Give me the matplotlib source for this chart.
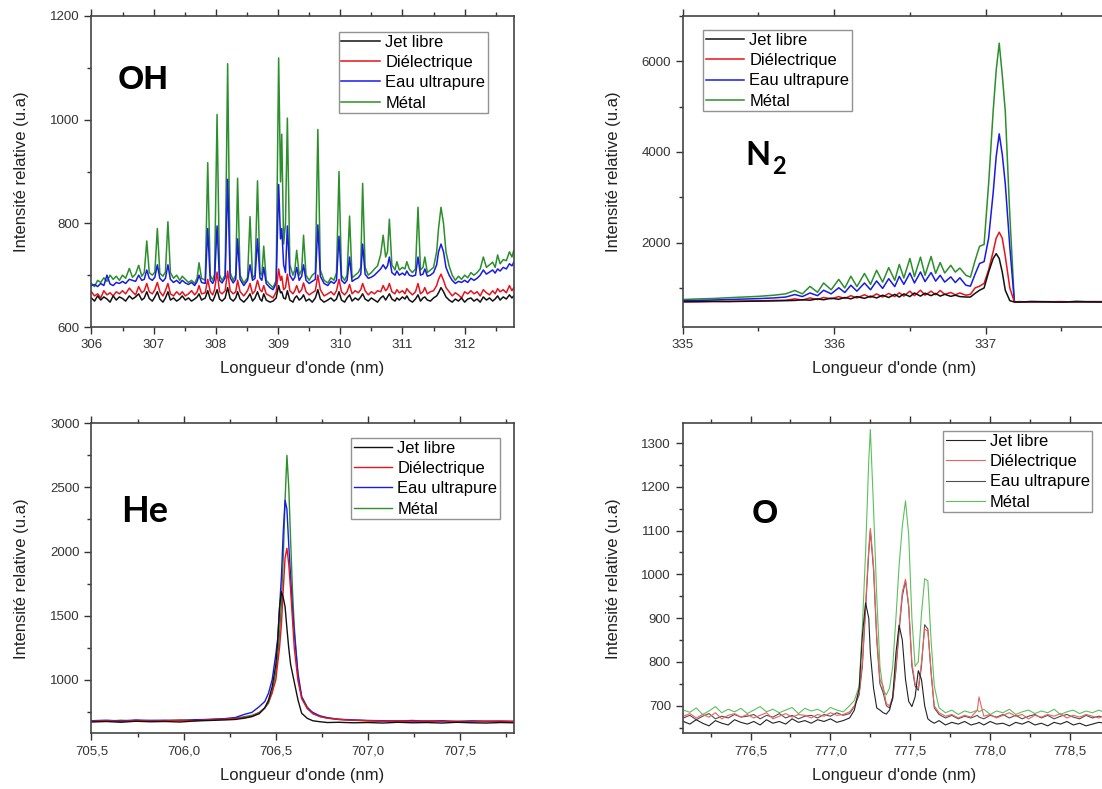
import numpy as np
import matplotlib
matplotlib.use('Agg')
import matplotlib.pyplot as plt
from matplotlib.ticker import MultipleLocator, FuncFormatter

plt.rcParams['font.family'] = ['Liberation Sans', 'DejaVu Sans']

W, H = 1102, 789
labels = ['Jet libre', 'Diélectrique', 'Eau ultrapure', 'Métal']

# ---- OH band (306-312.8 nm)
oh_x = [306.00, 306.05, 306.10, 306.15, 306.20, 306.25, 306.30, 306.35, 306.40, 306.45,
        306.50, 306.55, 306.61, 306.66, 306.71, 306.76, 306.81, 306.85, 306.89, 306.93,
        306.98, 307.02, 307.06, 307.10, 307.15, 307.19, 307.23, 307.27, 307.32, 307.37,
        307.42, 307.46, 307.51, 307.56, 307.61, 307.66, 307.70, 307.73, 307.77, 307.83,
        307.87, 307.91, 307.95, 307.98, 308.02, 308.06, 308.10, 308.15, 308.19, 308.23,
        308.28, 308.32, 308.35, 308.39, 308.45, 308.51, 308.55, 308.59, 308.63, 308.67,
        308.71, 308.74, 308.77, 308.81, 308.87, 308.92, 308.97, 309.01, 309.04, 309.06,
        309.09, 309.12, 309.15, 309.19, 309.24, 309.27, 309.30, 309.34, 309.38, 309.41,
        309.45, 309.50, 309.55, 309.60, 309.64, 309.68, 309.74, 309.80, 309.85, 309.90,
        309.94, 309.98, 310.02, 310.07, 310.11, 310.15, 310.19, 310.24, 310.29, 310.33,
        310.36, 310.40, 310.45, 310.50, 310.55, 310.60, 310.65, 310.69, 310.73, 310.76,
        310.79, 310.83, 310.88, 310.91, 310.95, 311.00, 311.04, 311.07, 311.11, 311.16,
        311.21, 311.25, 311.29, 311.33, 311.36, 311.40, 311.45, 311.50, 311.55, 311.58,
        311.62, 311.66, 311.70, 311.75, 311.80, 311.85, 311.90, 311.95, 312.00, 312.05,
        312.10, 312.15, 312.20, 312.25, 312.30, 312.35, 312.40, 312.45, 312.49, 312.53,
        312.57, 312.62, 312.67, 312.72, 312.76, 312.79]
oh_metal = [684, 678, 690, 686, 695, 688, 700, 692, 698, 690,
            700, 694, 713, 696, 702, 719, 698, 705, 766, 705,
            700, 706, 790, 704, 698, 706, 803, 705, 694, 700,
            690, 698, 692, 686, 690, 684, 695, 724, 694, 690,
            917, 700, 690, 702, 1010, 700, 690, 700, 1108, 705,
            690, 700, 887, 700, 685, 695, 813, 695, 700, 882,
            705, 700, 756, 690, 682, 676, 690, 1119, 880, 972,
            760, 800, 1003, 720, 700, 710, 748, 700, 710, 777,
            700, 690, 700, 705, 981, 710, 690, 685, 695, 690,
            705, 900, 700, 690, 700, 814, 695, 700, 705, 715,
            877, 715, 700, 705, 712, 718, 740, 777, 735, 745,
            808, 720, 710, 726, 710, 715, 712, 726, 712, 705,
            712, 831, 710, 715, 735, 705, 710, 715, 745, 790,
            831, 800, 745, 718, 700, 690, 698, 692, 700, 695,
            705, 700, 705, 712, 735, 715, 720, 725, 715, 739,
            722, 730, 728, 745, 735, 748]
oh_eau = [680, 682, 678, 684, 680, 700, 683, 680, 686, 684,
          688, 684, 692, 690, 688, 700, 690, 692, 710, 694,
          690, 696, 720, 694, 688, 694, 720, 692, 686, 690,
          684, 690, 685, 682, 686, 680, 688, 700, 686, 684,
          790, 690, 684, 692, 795, 690, 685, 695, 885, 695,
          685, 692, 770, 692, 680, 690, 720, 690, 694, 770,
          695, 690, 715, 684, 676, 672, 684, 875, 770, 790,
          720, 705, 795, 700, 690, 696, 715, 690, 698, 720,
          690, 684, 688, 692, 797, 698, 684, 680, 688, 684,
          690, 775, 690, 684, 690, 735, 688, 692, 695, 702,
          760, 702, 694, 696, 700, 706, 712, 720, 712, 718,
          735, 705, 700, 708, 700, 704, 700, 708, 700, 698,
          700, 735, 700, 702, 712, 698, 700, 705, 720, 745,
          760, 745, 715, 700, 690, 684, 688, 686, 690, 686,
          694, 690, 694, 700, 710, 702, 706, 710, 704, 712,
          708, 715, 712, 722, 718, 725]
oh_diel = [668, 660, 664, 656, 670, 662, 666, 660, 668, 664,
           670, 664, 675, 668, 662, 678, 666, 670, 684, 668,
           664, 672, 686, 668, 660, 670, 684, 664, 660, 668,
           662, 668, 660, 664, 670, 662, 668, 680, 664, 666,
           692, 668, 662, 672, 706, 668, 664, 670, 708, 670,
           664, 668, 690, 668, 660, 670, 684, 664, 670, 690,
           672, 668, 680, 664, 660, 656, 668, 712, 690, 698,
           672, 676, 702, 670, 664, 670, 680, 666, 672, 685,
           668, 662, 666, 670, 700, 672, 660, 664, 668, 662,
           670, 692, 668, 662, 668, 682, 664, 670, 666, 672,
           684, 670, 662, 668, 664, 670, 668, 680, 670, 674,
           684, 668, 664, 672, 666, 670, 664, 674, 668, 662,
           668, 684, 664, 668, 676, 664, 668, 670, 680, 692,
           702, 690, 676, 668, 660, 666, 662, 656, 668, 664,
           670, 664, 668, 660, 672, 666, 662, 670, 664, 674,
           668, 672, 666, 680, 670, 676]
oh_jet = [656, 650, 660, 652, 658, 654, 648, 660, 652, 658,
          655, 650, 660, 654, 658, 664, 652, 656, 668, 655,
          650, 658, 668, 654, 648, 656, 668, 652, 656, 650,
          654, 660, 652, 656, 650, 654, 658, 664, 652, 656,
          670, 654, 650, 658, 672, 654, 650, 656, 676, 655,
          650, 656, 668, 654, 648, 656, 664, 650, 656, 668,
          654, 650, 664, 652, 648, 650, 656, 680, 666, 668,
          656, 654, 670, 652, 648, 656, 660, 652, 656, 662,
          650, 654, 648, 656, 672, 654, 648, 652, 656, 650,
          654, 668, 652, 648, 656, 662, 650, 656, 652, 658,
          664, 654, 650, 656, 652, 648, 656, 660, 652, 658,
          664, 654, 650, 656, 652, 658, 654, 660, 652, 648,
          654, 662, 650, 656, 658, 652, 650, 656, 660, 666,
          676, 668, 658, 652, 648, 654, 650, 656, 648, 654,
          656, 650, 654, 648, 658, 652, 656, 650, 654, 660,
          652, 658, 654, 662, 656, 660]

# ---- N2 band (335-337.8 nm)
n2_x = [335.00, 335.10, 335.20, 335.30, 335.40, 335.50, 335.60, 335.68, 335.74, 335.79,
        335.84, 335.89, 335.93, 335.98, 336.03, 336.07, 336.11, 336.15, 336.20, 336.24,
        336.28, 336.32, 336.36, 336.40, 336.43, 336.46, 336.50, 336.53, 336.57, 336.60,
        336.64, 336.67, 336.70, 336.73, 336.77, 336.80, 336.83, 336.87, 336.90, 336.93,
        336.96, 336.99, 337.02, 337.05, 337.07, 337.09, 337.11, 337.13, 337.16, 337.19,
        337.22, 337.30, 337.40, 337.50, 337.60, 337.70, 337.80, 337.90, 338.00, 338.05]
n2_metal = [745, 758, 768, 785, 800, 815, 840, 870, 945, 870,
            1035, 905, 1110, 960, 1190, 1000, 1260, 1030, 1320, 1080,
            1390, 1130, 1450, 1170, 1520, 1220, 1650, 1250, 1680, 1280,
            1695, 1320, 1560, 1330, 1500, 1350, 1440, 1280, 1240, 1600,
            1920, 1960, 3300, 4900, 5800, 6400, 5700, 4900, 2600, 700,
            690, 695, 700, 690, 700, 695, 690, 700, 695, 700]
n2_eau = [720, 725, 735, 745, 755, 765, 780, 800, 855, 810,
          890, 830, 950, 870, 1005, 900, 1060, 930, 1110, 960,
          1155, 990, 1205, 1030, 1255, 1080, 1330, 1110, 1352, 1140,
          1340, 1150, 1280, 1130, 1245, 1120, 1225, 1060, 1040, 1300,
          1540, 1580, 2100, 3100, 3900, 4400, 3950, 3300, 1900, 700,
          690, 700, 695, 690, 700, 695, 700, 690, 700, 695]
n2_diel = [690, 695, 700, 705, 710, 715, 725, 730, 760, 735,
           780, 745, 790, 760, 810, 770, 830, 780, 850, 790,
           870, 800, 880, 810, 895, 820, 930, 830, 950, 840,
           930, 850, 945, 860, 900, 850, 890, 840, 860, 1000,
           1040, 1100, 1400, 1800, 2100, 2230, 2100, 1700, 1000, 690,
           700, 690, 695, 700, 690, 700, 695, 690, 700, 695]
n2_jet = [700, 700, 705, 700, 705, 710, 715, 720, 725, 740,
          730, 760, 740, 775, 750, 790, 760, 810, 770, 820,
          780, 840, 790, 860, 800, 870, 810, 890, 820, 885,
          830, 880, 820, 860, 815, 840, 810, 800, 800, 880,
          950, 1000, 1350, 1650, 1757, 1650, 1350, 950, 720, 690,
          690, 700, 695, 690, 700, 695, 690, 700, 695, 700]

# ---- He line (705.5-707.8 nm)
he_x = [705.50, 705.58, 705.66, 705.74, 705.82, 705.90, 705.98, 706.06, 706.14, 706.22,
        706.28, 706.33, 706.37, 706.41, 706.44, 706.46, 706.48, 706.50, 706.51, 706.52,
        706.53, 706.54, 706.55, 706.56, 706.57, 706.58, 706.59, 706.60, 706.62, 706.64,
        706.67, 706.70, 706.74, 706.78, 706.84, 706.92, 707.00, 707.08, 707.16, 707.24,
        707.32, 707.40, 707.48, 707.56, 707.64, 707.72, 707.79]
he_metal = [680, 676, 684, 678, 682, 680, 686, 684, 690, 694,
            700, 712, 722, 745, 780, 816, 900, 1060, 1180, 1360,
            1600, 1950, 2400, 2750, 2500, 2090, 1700, 1413, 1020, 867,
            789, 738, 712, 700, 690, 684, 680, 676, 680, 674,
            678, 676, 672, 678, 674, 676, 672]
he_eau = [680, 684, 678, 686, 682, 684, 680, 688, 690, 696,
          705, 730, 745, 790, 830, 894, 1000, 1200, 1320, 1560,
          1800, 2150, 2400, 2330, 2050, 1800, 1560, 1364, 1052, 867,
          780, 745, 718, 704, 692, 686, 682, 680, 678, 682,
          676, 680, 674, 678, 676, 674, 676]
he_diel = [676, 680, 674, 682, 678, 680, 684, 680, 688, 692,
           698, 705, 715, 740, 780, 830, 900, 1000, 1130, 1250,
           1430, 1700, 1950, 2025, 1900, 1700, 1470, 1245, 991, 852,
           775, 735, 712, 700, 690, 684, 680, 676, 680, 676,
           678, 674, 676, 672, 676, 678, 674]
he_jet = [670, 674, 668, 676, 672, 674, 670, 678, 682, 686,
          690, 700, 712, 735, 780, 840, 945, 1120, 1300, 1560,
          1686, 1640, 1569, 1400, 1245, 1120, 1050, 980, 842, 738,
          699, 680, 672, 666, 668, 664, 666, 662, 668, 664,
          666, 662, 668, 664, 662, 666, 664]

# ---- O triplet (776.1-778.7 nm)
o_x = [776.08, 776.12, 776.16, 776.20, 776.24, 776.28, 776.32, 776.36, 776.40, 776.44,
       776.48, 776.52, 776.56, 776.60, 776.64, 776.68, 776.72, 776.76, 776.80, 776.84,
       776.88, 776.92, 776.96, 777.00, 777.04, 777.08, 777.12, 777.15, 777.18, 777.20,
       777.22, 777.24, 777.25, 777.27, 777.29, 777.31, 777.33, 777.35, 777.37, 777.39,
       777.41, 777.43, 777.45, 777.47, 777.49, 777.51, 777.53, 777.55, 777.57, 777.59,
       777.61, 777.63, 777.65, 777.68, 777.72, 777.76, 777.80, 777.84, 777.88, 777.92,
       777.93, 777.96, 778.00, 778.04, 778.08, 778.12, 778.16, 778.20, 778.24, 778.28,
       778.32, 778.36, 778.40, 778.44, 778.48, 778.52, 778.56, 778.60, 778.64, 778.68,
       778.72]
o_metal = [690, 685, 695, 680, 688, 698, 684, 692, 686, 694,
           682, 690, 698, 686, 692, 684, 690, 696, 682, 694,
           688, 692, 684, 696, 690, 686, 700, 712, 745, 880,
           1050, 1260, 1331, 1150, 950, 790, 735, 725, 740, 790,
           900, 1020, 1110, 1168, 1090, 900, 790, 800, 910, 990,
           985, 850, 745, 695, 684, 690, 680, 688, 684, 690,
           686, 692, 680, 688, 684, 692, 680, 686, 690, 682,
           688, 684, 692, 680, 686, 690, 682, 688, 684, 690,
           684]
o_diel = [676, 682, 672, 680, 674, 684, 670, 678, 682, 674,
          680, 672, 678, 684, 670, 676, 682, 674, 680, 678,
          672, 680, 676, 684, 678, 680, 686, 700, 730, 800,
          930, 1060, 1105, 1020, 860, 760, 745, 705, 700, 720,
          790, 880, 960, 989, 930, 800, 750, 740, 800, 875,
          870, 780, 700, 684, 676, 680, 672, 678, 674, 690,
          720, 676, 680, 672, 678, 684, 676, 680, 670, 678,
          674, 680, 676, 682, 672, 678, 674, 680, 676, 672,
          678]
o_eau = [672, 678, 668, 676, 682, 670, 676, 672, 680, 674,
         676, 680, 670, 678, 674, 682, 672, 678, 670, 676,
         678, 672, 680, 676, 684, 678, 682, 698, 725, 790,
         920, 1050, 1100, 1010, 850, 750, 730, 700, 695, 715,
         780, 870, 950, 985, 925, 790, 745, 735, 790, 885,
         875, 775, 695, 680, 672, 678, 670, 676, 672, 678,
         674, 670, 678, 674, 680, 672, 678, 670, 676, 680,
         672, 678, 670, 676, 680, 674, 670, 678, 672, 676,
         674]
o_jet = [664, 658, 668, 660, 654, 666, 660, 656, 668, 662,
         658, 664, 656, 668, 660, 664, 658, 670, 662, 666,
         660, 668, 664, 670, 662, 666, 672, 690, 740, 860,
         935, 900, 820, 740, 695, 690, 684, 681, 690, 720,
         820, 884, 850, 760, 710, 698, 720, 780, 760, 700,
         670, 664, 660, 666, 656, 662, 658, 664, 656, 660,
         662, 656, 664, 658, 660, 654, 662, 658, 664, 656,
         660, 654, 662, 658, 664, 656, 660, 654, 658, 662,
         660]

fig = plt.figure(figsize=(W / 100, H / 100), dpi=100)


def px_axes(l, t, r, b):
    return fig.add_axes([l / W, 1 - b / H, (r - l) / W, (b - t) / H])


def comma(v, pos):
    return f"{v:.1f}".replace('.', ',')


def draw(ax, x, series, colors, lw, xlim, ylim, xt, yt, legend_kw, use_comma=False):
    handles = []
    # Métal drawn first so that Jet libre ends on top
    for y, c in zip(series[::-1], colors[::-1]):
        h, = ax.plot(x, y, color=c, lw=lw)
        handles.append(h)
    handles = handles[::-1]
    ax.set_xlim(*xlim)
    ax.set_ylim(*ylim)
    ax.xaxis.set_major_locator(MultipleLocator(xt))
    ax.xaxis.set_minor_locator(MultipleLocator(xt / 2))
    ax.yaxis.set_major_locator(MultipleLocator(yt))
    ax.yaxis.set_minor_locator(MultipleLocator(yt / 2))
    if use_comma:
        ax.xaxis.set_major_formatter(FuncFormatter(comma))
    ax.tick_params(which='both', direction='out', top=True, right=False,
                   colors='#333333', labelsize=9.5, width=1)
    ax.tick_params(which='major', length=5)
    ax.tick_params(which='minor', length=3)
    for s in ax.spines.values():
        s.set_color('#444444')
        s.set_linewidth(1.2)
    ax.set_xlabel("Longueur d'onde (nm)", fontsize=12, color='#222222')
    ax.set_ylabel("Intensité relative (u.a)", fontsize=12, color='#222222')
    ax.yaxis.set_label_coords(-0.147, 0.5)
    leg = ax.legend(handles, labels, fontsize=11.9, frameon=True, fancybox=False,
                    edgecolor='#777777', handlelength=2.35, handletextpad=0.3,
                    labelspacing=0.32, borderpad=0.15, borderaxespad=0, **legend_kw)
    leg.get_frame().set_linewidth(1.0)
    return ax


main_colors = ['#111111', '#e8131b', '#1a1ae6', '#2b8f2b']
o_colors = ['#222222', '#f06060', '#505050', '#5cc05c']

ax1 = px_axes(91.4, 16, 513.8, 327)
draw(ax1, oh_x, [oh_jet, oh_diel, oh_eau, oh_metal], main_colors, 1.1,
     (306, 312.79), (600, 1200), 1, 200,
     dict(loc='upper right', bbox_to_anchor=(0.938, 0.948)))
ax1.xaxis.set_label_coords(0.5, -0.11)

ax2 = px_axes(682.8, 16, 1105.2, 327)
draw(ax2, n2_x, [n2_jet, n2_diel, n2_eau, n2_metal], main_colors, 1.1,
     (335, 337.79), (139, 7000), 1, 2000,
     dict(loc='upper left', bbox_to_anchor=(0.048, 0.954)))
ax2.xaxis.set_label_coords(0.5, -0.11)

ax3 = px_axes(91.4, 423.3, 513.8, 733.3)
draw(ax3, he_x, [he_jet, he_diel, he_eau, he_metal], main_colors, 1.0,
     (705.5, 707.79), (582, 3000), 0.5, 500,
     dict(loc='upper right', bbox_to_anchor=(0.967, 0.952)), use_comma=True)
ax3.xaxis.set_label_coords(0.5, -0.112)

ax4 = px_axes(682.8, 423.3, 1105.2, 733.3)
draw(ax4, o_x, [o_jet, o_diel, o_eau, o_metal], o_colors, 0.8,
     (776.076, 778.72), (637, 1345), 0.5, 100,
     dict(loc='upper right', bbox_to_anchor=(0.969, 0.974)), use_comma=True)
ax4.xaxis.set_label_coords(0.5, -0.112)

# species labels
fig.text(117.7 / W, 1 - 89.3 / H, 'OH', fontsize=24.5, fontweight='bold', va='baseline')
fig.text(745.3 / W, 1 - 165 / H, 'N', fontsize=23.5, fontweight='bold', va='baseline',
         family=['Lato', 'DejaVu Sans'])
fig.text(771.7 / W, 1 - 174 / H, '2', fontsize=17, fontweight='bold', va='baseline',
         family=['Lato', 'DejaVu Sans'])
fig.text(121.2 / W, 1 - 522.3 / H, 'He', fontsize=26, fontweight='bold', va='baseline',
         family=['Lato', 'DejaVu Sans'])
fig.text(751.3 / W, 1 - 522.7 / H, 'O', fontsize=24.5, fontweight='bold', va='baseline')

fig.savefig('out.png', dpi=100)
